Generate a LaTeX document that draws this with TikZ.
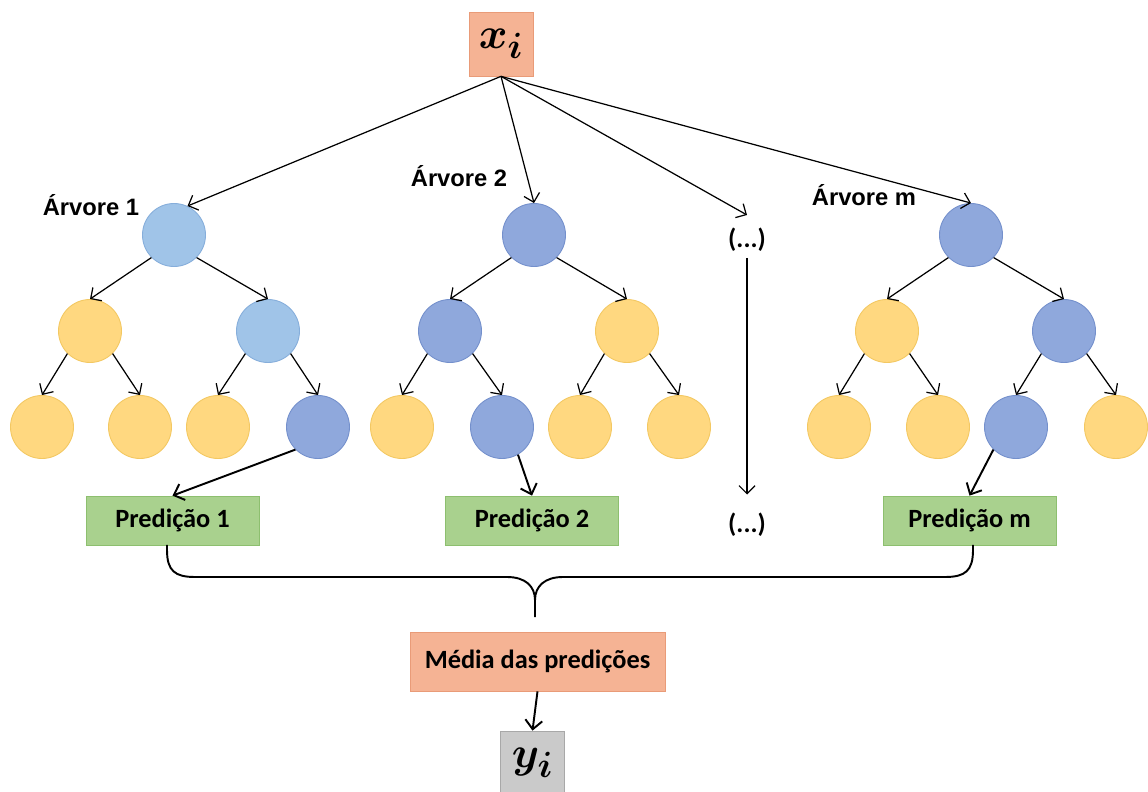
\documentclass[tikz,border=0pt]{standalone}
\usepackage{amsmath}
\usepackage{fontspec}
\usetikzlibrary{arrows.meta}
\newfontfamily\calfont{Carlito}
\newfontfamily\arialfont{Liberation Sans}
\definecolor{salmonfill}{HTML}{F5B394}
\definecolor{salmonline}{HTML}{E99B78}
\definecolor{greenfill}{HTML}{A9D18E}
\definecolor{greenline}{HTML}{8DBF6F}
\definecolor{skyfill}{HTML}{A0C4E8}
\definecolor{skyline}{HTML}{86AEDB}
\definecolor{bluefill}{HTML}{8FA8DC}
\definecolor{blueline}{HTML}{7490CC}
\definecolor{goldfill}{HTML}{FFD880}
\definecolor{goldline}{HTML}{F3C862}
\definecolor{greyfill}{HTML}{CACACA}
\definecolor{greyline}{HTML}{A8A8A8}

\begin{document}
\begin{tikzpicture} [scale = 1,
  ball/.style = {circle, minimum size = 1.26cm, inner sep = 0pt, line width = 0.5pt},
  gold/.style = {ball, fill = goldfill, draw = goldline},
  sky/.style = {ball, fill = skyfill, draw = skyline},
  navy/.style = {ball, fill = bluefill, draw = blueline},
  predbox/.style = {rectangle, fill = greenfill, draw = greenline, minimum width = 3.46cm, minimum height = 0.98cm, font = \calfont\bfseries\fontsize{15}{17}\selectfont},
  meanbox/.style = {rectangle, fill = salmonfill, draw = salmonline, minimum width = 5.1cm, minimum height = 1.18cm, font = \calfont\bfseries\fontsize{15}{17}\selectfont},
  varbox/.style = {rectangle, minimum width = 1.28cm, minimum height = 1.28cm, inner sep = 0pt, font = \fontsize{28}{30}\selectfont},
  treename/.style = {font = \arialfont\bfseries\fontsize{13.5}{15}\selectfont},
  dotsname/.style = {font = \calfont\bfseries\fontsize{15}{17}\selectfont},
  edge/.style = {-{Straight Barb[length = 1.6mm, width = 3.2mm]}, black, line width = 0.7pt},
  pick/.style = {-{Straight Barb[length = 1.8mm, width = 3.4mm]}, black, line width = 1.1pt}]
\useasboundingbox (0, 0) rectangle (22.96, 15.82);
\node[varbox, fill = salmonfill, draw = salmonline] (xi) at (10.02, 14.94){$\boldsymbol{x_i}$};
\node[treename] (n1) at (1.82, 11.72){Árvore 1};
\node[treename] (n2) at (9.18, 12.30){Árvore 2};
\node[treename] (nm) at (17.28, 11.92){Árvore m};
\node[sky] (a1) at (3.48, 11.12){};
\node[gold] (a2) at (1.80, 9.20){};
\node[sky] (a3) at (5.36, 9.20){};
\node[gold] (a4) at (0.84, 7.28){};
\node[gold] (a5) at (2.80, 7.28){};
\node[gold] (a6) at (4.36, 7.28){};
\node[navy] (a7) at (6.36, 7.28){};
\node[navy] (b1) at (10.68, 11.12){};
\node[navy] (b2) at (9.00, 9.20){};
\node[gold] (b3) at (12.54, 9.20){};
\node[gold] (b4) at (8.04, 7.28){};
\node[navy] (b5) at (10.04, 7.28){};
\node[gold] (b6) at (11.60, 7.28){};
\node[gold] (b7) at (13.58, 7.28){};
\node[navy] (c1) at (19.42, 11.12){};
\node[gold] (c2) at (17.74, 9.20){};
\node[navy] (c3) at (21.28, 9.20){};
\node[gold] (c4) at (16.78, 7.28){};
\node[gold] (c5) at (18.76, 7.28){};
\node[navy] (c6) at (20.32, 7.28){};
\node[gold] (c7) at (22.32, 7.28){};
\node[dotsname] (d1) at (14.94, 11.02){(...)};
\node[dotsname] (d2) at (14.94, 5.32){(...)};
\coordinate (d1top) at (14.94, 11.52);
\node[predbox] (p1) at (3.45, 5.41){Predição 1};
\node[predbox] (p2) at (10.64, 5.41){Predição 2};
\node[predbox] (pm) at (19.39, 5.41){Predição m};
\node[meanbox] (med) at (10.75, 2.59){Média das predições};
\node[varbox, fill = greyfill, draw = greyline] (yi) at (10.65, 0.56){$\boldsymbol{y_i}$};
\draw[edge] (xi.south) -- (a1.65);
\draw[edge] (xi.south) -- (b1.north);
\draw[edge] (xi.south) -- (d1top);
\draw[edge] (xi.south) -- (c1.north);
\draw[edge] (a1.225) -- (a2.north);
\draw[edge] (a1.315) -- (a3.north);
\draw[edge] (a2.225) -- (a4.north);
\draw[edge] (a2.315) -- (a5.north);
\draw[edge] (a3.225) -- (a6.north);
\draw[edge] (a3.315) -- (a7.north);
\draw[edge] (b1.225) -- (b2.north);
\draw[edge] (b1.315) -- (b3.north);
\draw[edge] (b2.225) -- (b4.north);
\draw[edge] (b2.315) -- (b5.north);
\draw[edge] (b3.225) -- (b6.north);
\draw[edge] (b3.315) -- (b7.north);
\draw[edge] (c1.225) -- (c2.north);
\draw[edge] (c1.315) -- (c3.north);
\draw[edge] (c2.225) -- (c4.north);
\draw[edge] (c2.315) -- (c5.north);
\draw[edge] (c3.225) -- (c6.north);
\draw[edge] (c3.315) -- (c7.north);
\draw[edge, shorten > = 0.25cm] (d1.south) -- (d2.north);
\draw[pick] (a7.225) -- (p1.north);
\draw[pick] (b5.300) -- (p2.north);
\draw[pick] (c6.225) -- (pm.north);
\draw[black, line width = 1.1pt] (3.34, 4.92) -- (3.34, 4.82) .. controls (3.34, 4.40) and (3.50, 4.28) .. (3.90, 4.28) -- (10.14, 4.28) .. controls (10.50, 4.28) and (10.70, 4.10) .. (10.70, 3.82) -- (10.70, 3.48);
\draw[black, line width = 1.1pt] (19.46, 4.92) -- (19.46, 4.82) .. controls (19.46, 4.40) and (19.30, 4.28) .. (18.90, 4.28) -- (11.26, 4.28) .. controls (10.90, 4.28) and (10.70, 4.10) .. (10.70, 3.82);
\draw[pick] (med.south) -- (yi.north);
\end{tikzpicture}
\end{document}
